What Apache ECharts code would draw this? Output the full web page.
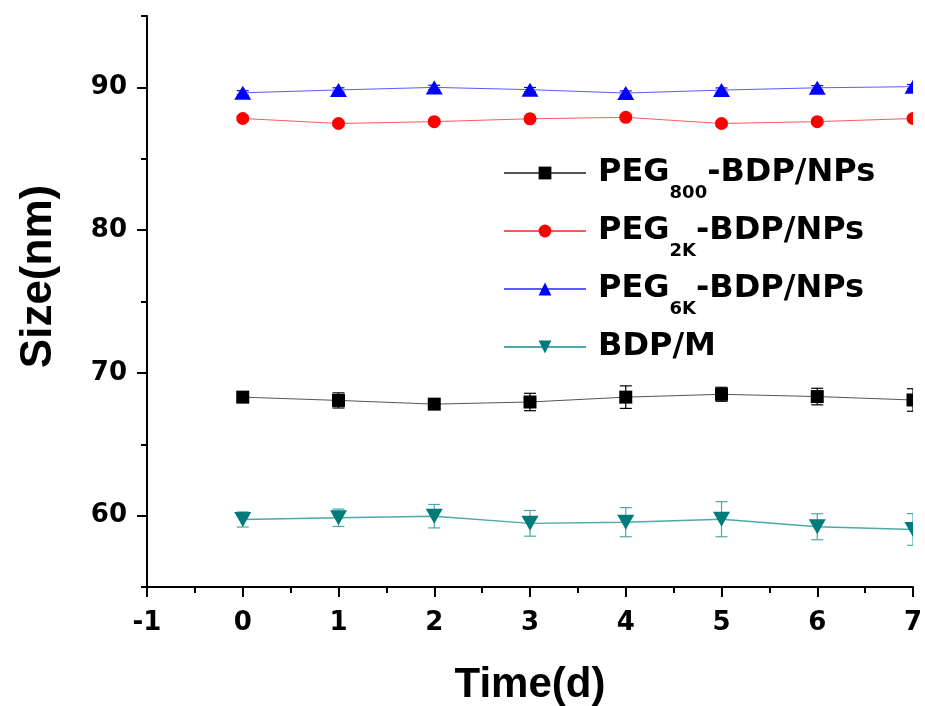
<!DOCTYPE html>
<html>
<head>
<meta charset="utf-8">
<script src="https://cdn.jsdelivr.net/npm/echarts@6/dist/echarts.min.js"></script>
<style>
html,body{margin:0;padding:0;background:#fff;}
#c{width:925px;height:706px;}
</style>
</head>
<body>
<div id="c"></div>
<script>
// ---- data ----
const days = [0, 1, 2, 3, 4, 5, 6, 7];
const seriesNames = ['PEG800-BDP/NPs', 'PEG2K-BDP/NPs', 'PEG6K-BDP/NPs', 'BDP/M'];
const legendLabels = [
  '{m|PEG}{s|800}{m|-BDP/NPs}',
  '{m|PEG}{s|2K}{m|-BDP/NPs}',
  '{m|PEG}{s|6K}{m|-BDP/NPs}',
  '{m|BDP/M}{s| }'
];
const peg800 = [68.30, 68.07, 67.81, 67.96, 68.30, 68.50, 68.34, 68.10];
const peg800Err = [0.30, 0.53, 0.30, 0.61, 0.79, 0.49, 0.58, 0.79];
const peg2k = [87.82, 87.47, 87.60, 87.80, 87.90, 87.47, 87.60, 87.82];
const peg2kErr = [0.15, 0.15, 0.15, 0.15, 0.15, 0.15, 0.15, 0.15];
const peg6k = [89.62, 89.82, 90.00, 89.84, 89.60, 89.81, 89.97, 90.05];
const peg6kErr = [0.15, 0.15, 0.15, 0.15, 0.15, 0.15, 0.15, 0.15];
const bdpM = [59.73, 59.85, 59.96, 59.46, 59.54, 59.75, 59.22, 59.03];
const bdpMErr = [0.53, 0.61, 0.82, 0.90, 1.02, 1.23, 0.91, 1.11];
const xMin = -1, xMax = 7, xStep = 1;
const yMajorTicks = [60, 70, 80, 90];
const yMinorTicks = [55, 65, 75, 85, 95];
const yMin = 55, yMax = 95;

// ---- styles ----
const FONT = 'Liberation Sans, Arial, Helvetica, sans-serif';
const WIDE = 'DejaVu Sans, Liberation Sans, sans-serif';
const defs = [
  {vals: peg800, err: peg800Err, color: '#000000', line: '#555555', lw: 1, bar: '#000000', shape: 'square', sym: 'rect', rot: 0},
  {vals: peg2k, err: peg2kErr, color: '#ff0000', line: '#ff5a5a', lw: 1, bar: '#ff0000', shape: 'circle', sym: 'circle', rot: 0},
  {vals: peg6k, err: peg6kErr, color: '#0000ff', line: '#5a5aff', lw: 1, bar: '#0000ff', shape: 'up', sym: 'triangle', rot: 0},
  {vals: bdpM, err: bdpMErr, color: '#007b7b', line: '#4ea8a8', lw: 1.4, bar: '#4ea8a8', shape: 'down', sym: 'triangle', rot: 180}
];

function markerRender(d) {
  return function (params, api) {
    const x = api.value(0), y = api.value(1), e = api.value(2);
    const c = api.coord([x, y]);
    const t = api.coord([x, y + e]);
    const b = api.coord([x, y - e]);
    const cw = 6;
    const barStyle = {stroke: d.bar, lineWidth: 1.2, fill: null};
    const children = [
      {type: 'line', shape: {x1: c[0], y1: t[1], x2: c[0], y2: b[1]}, style: barStyle},
      {type: 'line', shape: {x1: c[0] - cw, y1: t[1], x2: c[0] + cw, y2: t[1]}, style: barStyle},
      {type: 'line', shape: {x1: c[0] - cw, y1: b[1], x2: c[0] + cw, y2: b[1]}, style: barStyle}
    ];
    let m;
    if (d.shape === 'square') {
      m = {type: 'rect', shape: {x: c[0] - 6.5, y: c[1] - 6.5, width: 13, height: 13}};
    } else if (d.shape === 'circle') {
      m = {type: 'circle', shape: {cx: c[0], cy: c[1], r: 6.5}};
    } else if (d.shape === 'up') {
      m = {type: 'polygon', shape: {points: [[c[0], c[1] - 7], [c[0] + 8.5, c[1] + 7], [c[0] - 8.5, c[1] + 7]]}};
    } else {
      m = {type: 'polygon', shape: {points: [[c[0], c[1] + 7.5], [c[0] + 8.5, c[1] - 7.5], [c[0] - 8.5, c[1] - 7.5]]}};
    }
    m.style = {fill: d.color, stroke: null};
    children.push(m);
    return {type: 'group', children: children};
  };
}

const series = [];
defs.forEach(function (d, i) {
  series.push({
    name: seriesNames[i],
    type: 'line',
    data: days.map(function (x, k) { return [x, d.vals[k]]; }),
    showSymbol: false,
    symbol: d.sym,
    symbolRotate: d.rot,
    symbolSize: 12,
    itemStyle: {color: d.color},
    lineStyle: {color: d.line, width: d.lw},
    silent: true,
    animation: false,
    z: 2
  });
});
defs.forEach(function (d, i) {
  series.push({
    name: seriesNames[i] + ' markers',
    type: 'custom',
    clip: true,
    data: days.map(function (x, k) { return [x, d.vals[k], d.err[k]]; }),
    renderItem: markerRender(d),
    silent: true,
    animation: false,
    z: 3
  });
});

const chart = echarts.init(document.getElementById('c'), null, {renderer: 'canvas'});
chart.setOption({
  backgroundColor: '#ffffff',
  animation: false,
  grid: {left: 147, right: 12, top: 16, bottom: 119, containLabel: false, outerBoundsMode: 'none'},
  xAxis: {
    type: 'value', min: xMin, max: xMax, interval: xStep,
    name: 'Time(d)', nameLocation: 'middle', nameGap: 77,
    nameTextStyle: {fontSize: 42, fontWeight: 'bold', fontFamily: FONT, color: '#000'},
    axisLine: {show: true, onZero: false, lineStyle: {color: '#000', width: 2}},
    axisTick: {show: true, length: 10, lineStyle: {color: '#000', width: 2}},
    minorTick: {show: true, splitNumber: 2, length: 6, lineStyle: {color: '#000', width: 2}},
    axisLabel: {fontSize: 26, fontWeight: 'bold', fontFamily: WIDE, color: '#000', margin: 23},
    splitLine: {show: false}
  },
  yAxis: [{
    type: 'value', min: yMin, max: yMax,
    name: 'Size(nm)', nameLocation: 'middle', nameGap: 86,
    nameTextStyle: {fontSize: 44, fontWeight: 'bold', fontFamily: FONT, color: '#000', padding: [0, 0, 0, 50]},
    axisLine: {show: true, onZero: false, lineStyle: {color: '#000', width: 2}},
    axisTick: {show: true, length: 10, customValues: yMajorTicks, lineStyle: {color: '#000', width: 2}},
    axisLabel: {customValues: yMajorTicks, fontSize: 26, fontWeight: 'bold', fontFamily: WIDE, color: '#000', margin: 20},
    splitLine: {show: false}
  }, {
    type: 'value', min: yMin, max: yMax, position: 'left',
    axisLine: {show: false, onZero: false},
    axisTick: {show: true, length: 6, customValues: yMinorTicks, lineStyle: {color: '#000', width: 2}},
    axisLabel: {show: false},
    splitLine: {show: false}
  }],
  legend: {
    data: seriesNames,
    orient: 'vertical',
    left: 503, top: 144,
    padding: 0,
    itemWidth: 82, itemHeight: 16, itemGap: 0,
    formatter: function (name) { return legendLabels[seriesNames.indexOf(name)]; },
    textStyle: {
      padding: [0, 0, 0, 7],
      rich: {
        m: {fontSize: 32, fontWeight: 'bold', fontFamily: WIDE, color: '#000', lineHeight: 32},
        s: {fontSize: 18, fontWeight: 'bold', fontFamily: WIDE, color: '#000', lineHeight: 18, padding: [40, 0, 0, 0]}
      }
    },
    selectedMode: false
  },
  series: series
});
</script>
</body>
</html>
